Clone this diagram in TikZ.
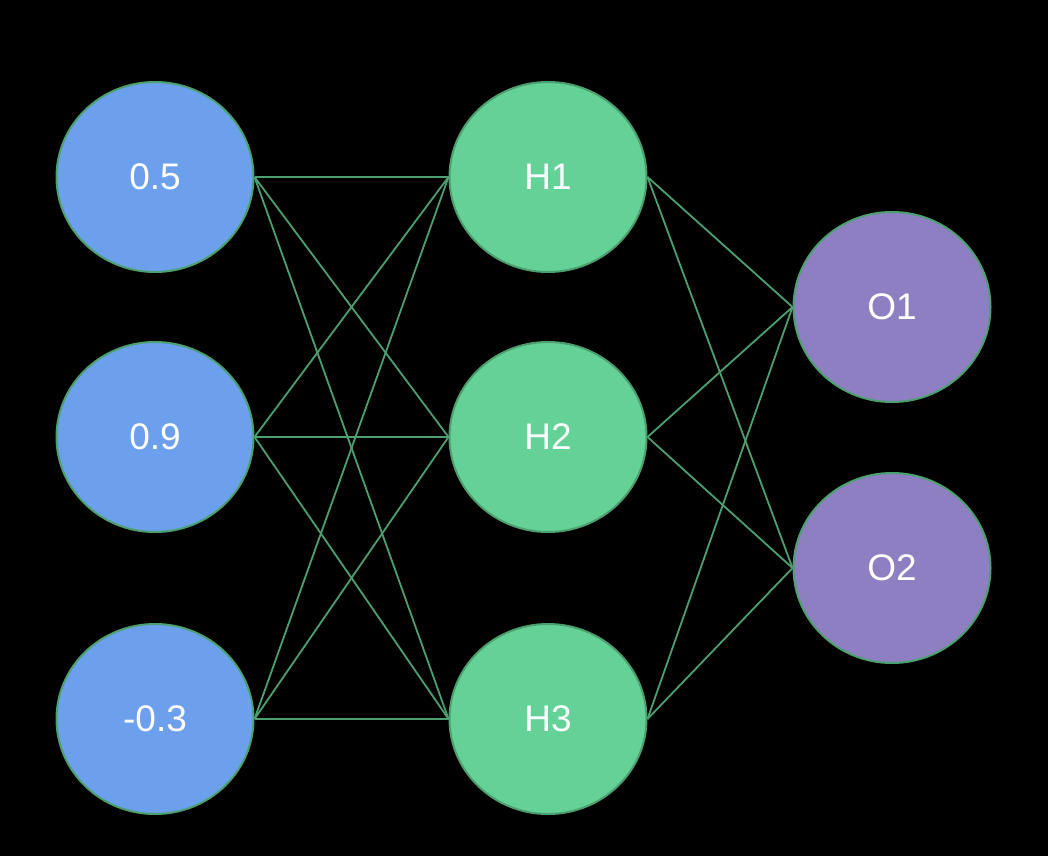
\documentclass[tikz,border=0pt]{standalone}
\usepackage{fontspec}
\setmainfont{Liberation Sans}
\usetikzlibrary{shapes.geometric}
\definecolor{inblue}{HTML}{6CA0EC}
\definecolor{hidgreen}{HTML}{64D296}
\definecolor{outpurple}{HTML}{8E7FC2}
\definecolor{edgegreen}{HTML}{4CA070}
\begin{document}
\begin{tikzpicture}[x=1pt,y=-1pt,
  neuron/.style={ellipse, draw=edgegreen, line width=2pt, minimum width=197pt,
    minimum height=190pt, inner sep=0pt, text=white, font=\fontsize{37}{44}\selectfont},
  link/.style={draw=edgegreen, line width=1.8pt}]
  % Background
  \fill[black] (0,0) rectangle (1048,856);
  \useasboundingbox (0,0) rectangle (1048,856);
  % Input layer -- blue
  \node[neuron, fill=inblue] (in1) at (155,177) {\raisebox{-2pt}{0.5}};
  \node[neuron, fill=inblue] (in2) at (155,437) {\raisebox{-2pt}{0.9}};
  \node[neuron, fill=inblue] (in3) at (155,719) {\raisebox{-2pt}{-0.3}};
  % Hidden layer -- green
  \node[neuron, fill=hidgreen] (h1) at (548,177) {\raisebox{-2pt}{H1}};
  \node[neuron, fill=hidgreen] (h2) at (548,437) {\raisebox{-2pt}{H2}};
  \node[neuron, fill=hidgreen] (h3) at (548,719) {\raisebox{-2pt}{H3}};
  % Output layer -- purple
  \node[neuron, fill=outpurple] (o1) at (892,307) {\raisebox{-2pt}{O1}};
  \node[neuron, fill=outpurple] (o2) at (892,568) {\raisebox{-2pt}{O2}};
  % Connections input -> hidden
  \foreach \i in {1,2,3}
    \foreach \j in {1,2,3}
      \draw[link] (in\i.east) -- (h\j.west);
  % Connections hidden -> output
  \foreach \i in {1,2,3}
    \foreach \j in {1,2}
      \draw[link] (h\i.east) -- (o\j.west);
\end{tikzpicture}
\end{document}
